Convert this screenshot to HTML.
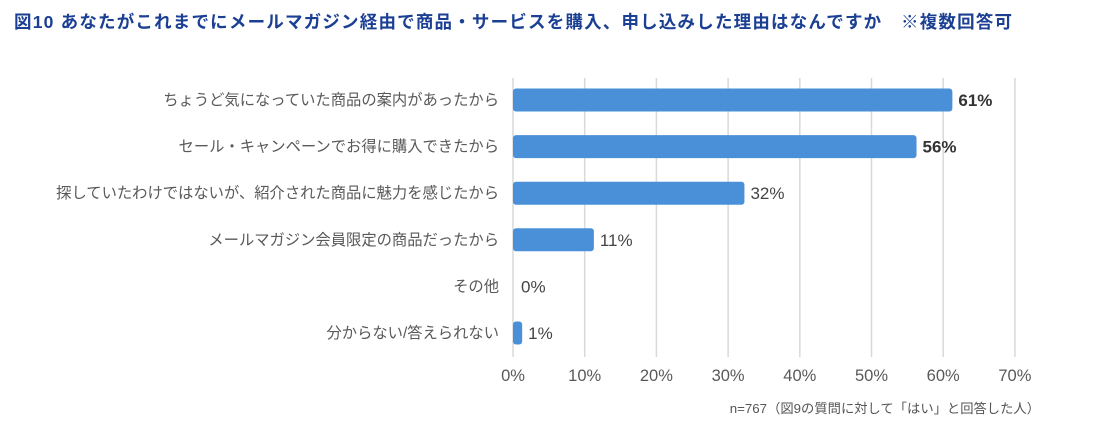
<!DOCTYPE html>
<html><head><meta charset="utf-8">
<style>
body{margin:0;width:1096px;height:423px;background:#fff;overflow:hidden;font-family:"Liberation Sans","Noto Sans CJK JP",sans-serif;}
</style></head>
<body>
<svg width="1096" height="423" xmlns="http://www.w3.org/2000/svg">
<text x="14" y="28" font-size="17.5" font-weight="bold" fill="#1b3f93" textLength="998" lengthAdjust="spacing">図10  あなたがこれまでにメールマガジン経由で商品・サービスを購入、申し込みした理由はなんですか　※複数回答可</text>
<g id="grid"></g>
<g id="bars"></g>
<text x="1040" y="413" font-size="13.3" fill="#555" text-anchor="end">n=767（図9の質問に対して「はい」と回答した人）</text>
</svg>
<script>
const categories=["ちょうど気になっていた商品の案内があったから","セール・キャンペーンでお得に購入できたから","探していたわけではないが、紹介された商品に魅力を感じたから","メールマガジン会員限定の商品だったから","その他","分からない/答えられない"];
const values=[61,56,32,11,0,1];
const ticks=[0,10,20,30,40,50,60,70];
const NS="http://www.w3.org/2000/svg";
const x0=513,pxPer=7.17,yTop=78,yBot=357,y0=100,step=46.6,bh=23;
const xs=v=>x0+v*pxPer;
const grid=document.getElementById('grid'),bars=document.getElementById('bars');
function mk(tag,attrs,parent){const e=document.createElementNS(NS,tag);for(const k in attrs)e.setAttribute(k,attrs[k]);parent.appendChild(e);return e;}
ticks.forEach(t=>{
 const l=mk('line',{x1:xs(t),x2:xs(t),y1:yTop,y2:yBot,stroke:'#d9d9d9','stroke-width':1.5},grid);
 
 
 const tx=mk('text',{x:xs(t),y:381,'font-size':16.5,fill:'#595959','text-anchor':'middle'},grid);
 tx.textContent=t+'%';
 
 
});
categories.forEach((c,i)=>{
 const cy=y0+i*step;
 const lb=mk('text',{x:499,y:cy+5,'font-size':15.3,fill:'#595959','text-anchor':'end'},bars);
 lb.textContent=c;
 
 
 const w=xs(values[i])-x0+2;
 if(values[i]>0){
  const r=mk('rect',{x:x0,y:cy-bh/2,width:w,height:bh,rx:3,fill:'#4a90d9'},bars);
  
  
 }
 const big=values[i]>=50;
 const vt=mk('text',{x:xs(values[i])+8,y:cy+6,'font-size':17,fill:big?'#333':'#444','font-weight':big?'bold':'normal'},bars);
 vt.textContent=values[i]+'%';
 
 
});
</script>
</body></html>
